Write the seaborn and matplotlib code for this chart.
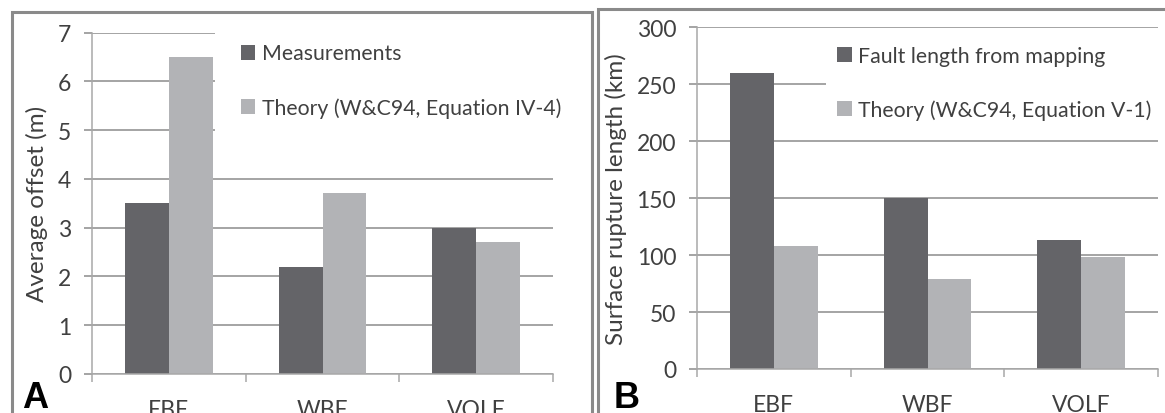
import pandas as pd
import seaborn as sns
import matplotlib.pyplot as plt
from matplotlib.patches import Rectangle

# 数据
faults = ["EBF", "WBF", "VOLF"]
offset_measured = [3.5, 2.2, 3.0]
offset_theory = [6.5, 3.7, 2.7]
length_mapped = [260, 150, 113]
length_theory = [108, 79, 98]

labels_a = ["Measurements", "Theory (W&C94, Equation IV-4)"]
labels_b = ["Fault length from mapping", "Theory (W&C94, Equation V-1)"]

dark = "#646468"
light = "#b2b3b6"
text_col = "#404040"
grid_col = "#8c8c8c"

sns.set_style("white")
plt.rcParams['font.family'] = ['Lato', 'DejaVu Sans']
plt.rcParams['font.size'] = 16

df_a = pd.DataFrame({
    "fault": faults * 2,
    "series": [labels_a[0]] * 3 + [labels_a[1]] * 3,
    "value": offset_measured + offset_theory,
})
df_b = pd.DataFrame({
    "fault": faults * 2,
    "series": [labels_b[0]] * 3 + [labels_b[1]] * 3,
    "value": length_mapped + length_theory,
})

W, H = 1165, 414
fig = plt.figure(figsize=(W / 100, H / 100), dpi=100)


def box(l, t, r, b):
    return [l / W, 1 - b / H, (r - l) / W, (b - t) / H]


ax_a = fig.add_axes(box(92, 33.5, 553, 375))
ax_b = fig.add_axes(box(697, 28.3, 1158, 370))


def style(ax, ymax, step, ylabel):
    ax.set_ylim(0, ymax)
    ax.set_xlim(-0.5, 2.5)
    ax.set_yticks(range(0, ymax + 1, step))
    ax.set_axisbelow(True)
    ax.yaxis.grid(True, color=grid_col, lw=1.1)
    ax.xaxis.grid(False)
    for s in ["top", "right"]:
        ax.spines[s].set_visible(False)
    for s in ["left", "bottom"]:
        ax.spines[s].set_color("#a8a8a8")
        ax.spines[s].set_linewidth(1.1)
    ax.tick_params(axis="y", which="major", left=True, length=6, width=1.1,
                   color=grid_col, pad=9, labelsize=16.5, labelcolor=text_col)
    ax.set_xticks([-0.5, 0.5, 1.5, 2.5], minor=True)
    ax.tick_params(axis="x", which="minor", bottom=True, length=6, width=1.1,
                   color="#a8a8a8")
    ax.tick_params(axis="x", which="major", bottom=False, length=0, pad=18,
                   labelsize=16.5, labelcolor=text_col)
    ax.set_xlabel("")
    ax.set_ylabel(ylabel, color=text_col, fontsize=17.5, labelpad=7)


sns.barplot(data=df_a, x="fault", y="value", hue="series", palette=[dark, light],
            width=0.57, saturation=1, linewidth=0, ax=ax_a)
sns.barplot(data=df_b, x="fault", y="value", hue="series", palette=[dark, light],
            width=0.57, saturation=1, linewidth=0, ax=ax_b)

style(ax_a, 7, 1, "Average offset (m)")
style(ax_b, 300, 50, "Surface rupture length (km)")

leg_kw = dict(title=None, frameon=True, facecolor="white", edgecolor="none",
              framealpha=1, fancybox=False, handlelength=0.7, handleheight=0.7,
              handletextpad=0.3, labelspacing=1.6, borderaxespad=0,
              bbox_transform=fig.transFigure, labelcolor=text_col, fontsize=15.3)
sns.move_legend(ax_a, "upper left", bbox_to_anchor=(215 / W, 1 - 19 / H),
                borderpad=1.2, **leg_kw)
sns.move_legend(ax_b, "upper left", bbox_to_anchor=(826 / W, 1 - 36 / H),
                borderpad=0.5, **leg_kw)

# 面板外框
fig.patches.append(Rectangle((11.5 / W, -0.1), (592 - 11.5) / W, 1.1 - 12.7 / H,
                             transform=fig.transFigure, fill=False,
                             edgecolor="#8a8a8a", lw=2.2))
fig.patches.append(Rectangle((598 / W, -0.1), 0.6, 1.1 - 10.5 / H,
                             transform=fig.transFigure, fill=False,
                             edgecolor="#8a8a8a", lw=2.2))

fig.text(22 / W, 1 - 408 / H, "A", fontsize=26, fontweight="bold",
         family=["Liberation Sans", "DejaVu Sans"], color="black")
fig.text(614 / W, 1 - 408 / H, "B", fontsize=26, fontweight="bold",
         family=["Liberation Sans", "DejaVu Sans"], color="black")

fig.savefig("out.png", dpi=100)
